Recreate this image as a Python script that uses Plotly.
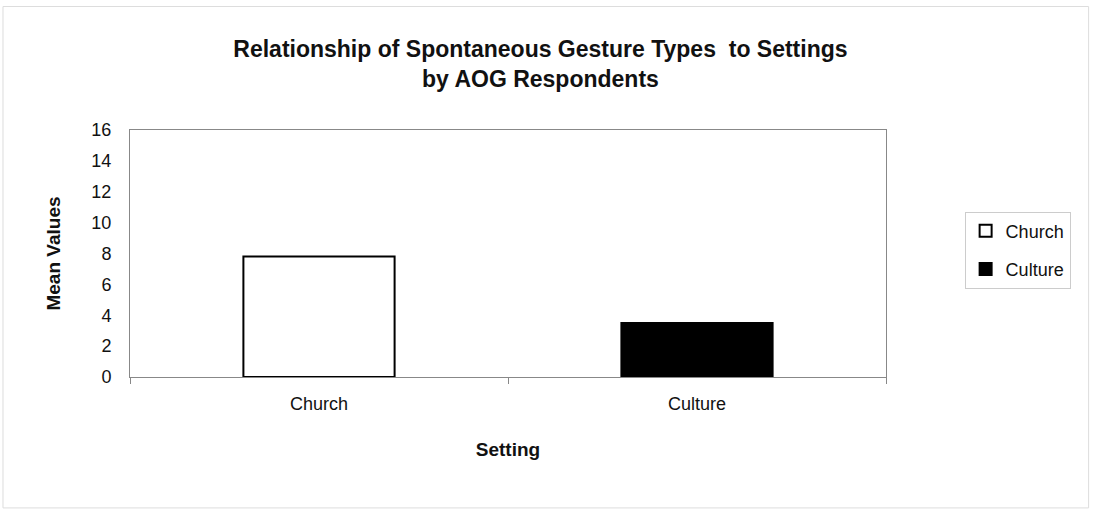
import plotly.graph_objects as go

categories = ["Church", "Culture"]
series_names = ["Church", "Culture"]
values = [7.8, 3.5]
fill_colors = ["#ffffff", "#000000"]
y_ticks = [0, 2, 4, 6, 8, 10, 12, 14, 16]

FONT = "Arial, Liberation Sans, sans-serif"

fig = go.Figure()
for name, cat, val, col in zip(series_names, categories, values, fill_colors):
    fig.add_trace(go.Bar(
        x=[cat], y=[val], name=name, width=0.4, legendgroup=name,
        marker=dict(color=col, line=dict(color="#000000", width=2)),
    ))

fig.update_layout(
    width=1094, height=516,
    margin=dict(l=130, r=208, t=130, b=139),
    paper_bgcolor="white", plot_bgcolor="white",
    barmode="overlay",
    font=dict(family=FONT, size=18, color="#111111"),
    title=dict(
        text="Relationship of Spontaneous Gesture Types  to Settings<br>by AOG Respondents",
        x=0.494, xanchor="center", y=0.89, yanchor="top",
        font=dict(family=FONT, size=23, color="#111111", weight="bold"),
    ),
    showlegend=True,
    legend=dict(
        x=1.104, xanchor="left", y=0.67, yanchor="top",
        bordercolor="#cccccc", borderwidth=1, bgcolor="white",
        font=dict(family=FONT, size=18), itemsizing="constant",
        tracegroupgap=12, itemwidth=30,
    ),
    xaxis=dict(
        type="category", categoryorder="array", categoryarray=categories,
        showline=True, linecolor="#888888", linewidth=1, mirror=True,
        ticks="outside", tickson="boundaries", ticklen=6, tickcolor="#888888",
        ticklabelstandoff=10,
        showgrid=False, zeroline=False,
        title=dict(text="<b>Setting</b>", font=dict(size=19), standoff=30),
    ),
    yaxis=dict(
        range=[0, 16], tickvals=y_ticks, showgrid=False, zeroline=False,
        showline=True, linecolor="#888888", linewidth=1, mirror=True,
        ticks="", ticklabelstandoff=14,
        title=dict(text="<b>Mean Values</b>", font=dict(size=19), standoff=25),
    ),
)

fig.add_shape(type="rect", xref="paper", yref="paper",
              x0=-0.168, x1=1.268, y0=-0.53, y1=1.5,
              line=dict(color="#dddddd", width=1), layer="below")

fig.write_html("out.html")
